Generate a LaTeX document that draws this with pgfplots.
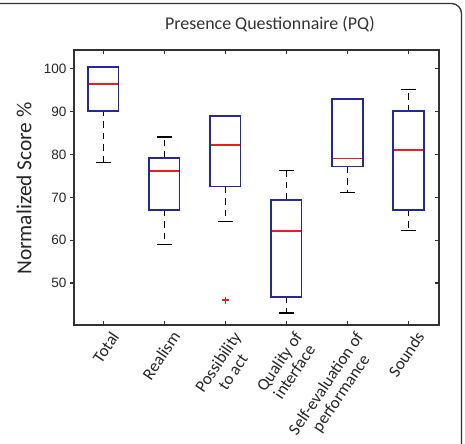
\documentclass[border=0pt]{standalone}
\usepackage{fontspec}
\setmainfont{Carlito}
\newfontfamily\numfont{Liberation Sans}
\usepackage{pgfplots}
\pgfplotsset{compat=1.18}

\definecolor{boxblue}{RGB}{38,38,160}
\definecolor{medred}{RGB}{235,30,30}
\definecolor{framegray}{RGB}{50,50,50}

\pgfplotsset{
  pqframe/.style={
    at={(74bp,119bp)}, anchor=south west,
    width=365bp, height=275bp, scale only axis,
    xmin=0.52, xmax=6.5, ymin=40.2, ymax=104.4,
    axis line style={draw=framegray, line width=1.2bp},
    major tick length=4bp,
    every tick/.style={draw=framegray, line width=1.1bp},
  },
  boxedge/.style={draw=boxblue, line width=1.6bp, line join=miter, mark=none},
  stem/.style={draw=black, line width=1.25bp, dash pattern=on 6.5bp off 5bp, mark=none},
}

\begin{document}
\begin{tikzpicture}
\path[use as bounding box] (0,0) rectangle (465bp,444bp);
\draw[framegray, line width=1.3bp, rounded corners=10bp]
  (0,440.5bp) -- (461.5bp,440.5bp) -- (461.5bp,0);
\node[anchor=base, font=\fontsize{18}{20}\selectfont, text=black!80]
  at (270bp,414.7bp) {Presence Questionnaire (PQ)};
\node[rotate=90, anchor=center, font=\fontsize{21.5}{23}\selectfont, text=black!85]
  at (24bp,255.5bp) {Normalized Score \%};

% left scale: outward ticks with numbers
\begin{axis}[pqframe,
  xtick=\empty,
  ytick={50,60,...,100}, ytick pos=left, tick align=outside,
  yticklabel style={font=\numfont\fontsize{13.6}{15}\selectfont, text=black!85},
  /pgf/number format/assume math mode=true,
]
\end{axis}

\begin{axis}[pqframe,
  xtick={1,...,6}, xtick pos=both, tick align=inside,
  xticklabels={Total, Realism, {Possibility\\to act}, {Quality of\\interface},
               {Self-evaluation of\\performance}, Sounds},
  xticklabel style={rotate=56, anchor=north east, align=center,
                    xshift=3bp, yshift=-5bp,
                    font=\fontsize{17}{18}\selectfont, text=black!85},
  ytick={50,60,...,100}, ytick pos=right, yticklabels={},
]
% whisker stems: quartile to whisker end
\addplot[stem] coordinates {(1,78.2) (1,90.1)};
\addplot[stem] coordinates {(2,67.1) (2,59.0)};
\addplot[stem] coordinates {(2,79.2) (2,84.1)};
\addplot[stem] coordinates {(3,72.5) (3,64.3)};
\addplot[stem] coordinates {(4,46.8) (4,43.0)};
\addplot[stem] coordinates {(4,69.4) (4,76.3)};
\addplot[stem] coordinates {(5,77.2) (5,71.2)};
\addplot[stem] coordinates {(6,67.1) (6,62.2)};
\addplot[stem] coordinates {(6,90.1) (6,95.1)};
% whisker end caps
\addplot[only marks, mark=-, mark size=7.5bp, black, line width=1.25bp]
  coordinates {(1,78.2) (2,59.0) (2,84.1) (3,64.3) (4,43.0) (4,76.3)
               (5,71.2) (6,62.2) (6,95.1)};
% boxes: lower quartile to upper quartile
\addplot[boxedge] coordinates {(0.75,90.1) (1.25,90.1) (1.25,100.4) (0.75,100.4)} -- cycle;
\addplot[boxedge] coordinates {(1.75,67.1) (2.25,67.1) (2.25,79.2) (1.75,79.2)} -- cycle;
\addplot[boxedge] coordinates {(2.75,72.5) (3.25,72.5) (3.25,89.0) (2.75,89.0)} -- cycle;
\addplot[boxedge] coordinates {(3.75,46.8) (4.25,46.8) (4.25,69.4) (3.75,69.4)} -- cycle;
\addplot[boxedge] coordinates {(4.75,77.2) (5.25,77.2) (5.25,93.0) (4.75,93.0)} -- cycle;
\addplot[boxedge] coordinates {(5.75,67.1) (6.25,67.1) (6.25,90.1) (5.75,90.1)} -- cycle;
% medians
\addplot[only marks, mark=-, mark size=14.4bp, medred, line width=1.6bp]
  coordinates {(1,96.5) (2,76.2) (3,82.2) (4,62.2) (5,79.1) (6,81.1)};
% outlier
\addplot[only marks, mark=+, mark size=3.5bp, medred, line width=1.5bp]
  coordinates {(3,46)};
\end{axis}
\end{tikzpicture}
\end{document}
